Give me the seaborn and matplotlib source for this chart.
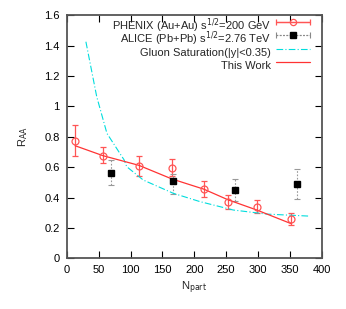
import numpy as np
import pandas as pd
import matplotlib
matplotlib.use("Agg")
import matplotlib.pyplot as plt
import seaborn as sns
from matplotlib.legend_handler import HandlerErrorbar

# PHENIX (Au+Au) data
phenix_npart = [13, 57, 113, 165, 215, 253, 298, 352]
phenix_raa = [0.774, 0.675, 0.607, 0.596, 0.456, 0.368, 0.339, 0.256]
phenix_err_up = [0.103, 0.055, 0.068, 0.055, 0.054, 0.046, 0.047, 0.040]
phenix_err_dn = [0.101, 0.050, 0.064, 0.055, 0.055, 0.046, 0.043, 0.039]

# ALICE (Pb+Pb) data
alice_npart = [69, 167, 264, 361]
alice_raa = [0.563, 0.509, 0.451, 0.489]
alice_err_up = [0.087, 0.045, 0.069, 0.096]
alice_err_dn = [0.083, 0.086, 0.074, 0.097]

# Gluon saturation curve
gluon_npart = [30, 47, 63, 90, 94, 120, 167, 209, 261, 314, 379]
gluon_raa = [1.425, 1.063, 0.822, 0.647, 0.603, 0.515, 0.428, 0.373, 0.318, 0.291, 0.278]

# This work curve
work_npart = [13, 57, 113, 165, 215, 253, 298, 352]
work_raa = [0.741, 0.675, 0.612, 0.522, 0.455, 0.385, 0.318, 0.228]

labels = ['PHENIX (Au+Au) s$^{1/2}$=200 GeV', 'ALICE (Pb+Pb) s$^{1/2}$=2.76 TeV',
          'Gluon Saturation(|y|<0.35)', 'This Work']

sns.set_style("ticks")
plt.rcParams['font.family'] = ['Liberation Sans', 'DejaVu Sans']
fs = 8

fig = plt.figure(figsize=(3.46, 3.09), dpi=100)
ax = fig.add_axes([0.193, 0.164, 0.737, 0.787])

red = '#ff5555'
ax.errorbar(phenix_npart, phenix_raa, yerr=[phenix_err_dn, phenix_err_up],
            fmt='o', mfc='none', mec=red, ms=5, mew=0.9, color=red,
            ecolor=red, elinewidth=0.9, capsize=2.5, capthick=0.9)
h2 = ax.errorbar(alice_npart, alice_raa, yerr=[alice_err_dn, alice_err_up],
                 fmt='s', color='black', ms=4.3, ecolor='#999999',
                 elinewidth=0.8, capsize=2, capthick=0.8)
for line in h2[2]:
    line.set_linestyle((0, (1.5, 1.5)))

sns.lineplot(x=gluon_npart, y=gluon_raa, ax=ax, color='#00dddd', lw=0.8,
             linestyle=(0, (6, 2, 1, 2)), label=labels[2])
sns.lineplot(x=work_npart, y=work_raa, ax=ax, color='#ff3333', lw=0.9,
             label=labels[3])

# legend proxies drawn gnuplot-style (line with caps at both ends)
p1 = ax.errorbar([np.nan], [np.nan], xerr=[1], fmt='-o', mfc='none', mec=red,
                 ms=4.5, mew=0.9, color=red, lw=0.9, capsize=2.5, capthick=0.9)
p2 = ax.errorbar([np.nan], [np.nan], xerr=[1], fmt='s', ls=(0, (1.5, 1.5)),
                 color='#888888', mfc='black', mec='black', ms=4.3, lw=0.8,
                 capsize=2, capthick=0.8)
for line in p2[2]:
    line.set_linestyle((0, (1.5, 1.5)))

ax.set_xlim(0, 400)
ax.set_ylim(0, 1.6)
ax.set_xticks(np.arange(0, 401, 50))
ax.set_yticks(np.arange(0, 1.61, 0.2))
ax.set_yticklabels(['0', '0.2', '0.4', '0.6', '0.8', '1', '1.2', '1.4', '1.6'])
ax.tick_params(direction='in', top=True, right=True, labelsize=fs, length=5,
               width=0.8, colors='black', pad=5)
for s in ax.spines.values():
    s.set_linewidth(1.3)
    s.set_color('#555555')
ax.set_xlabel('N$_{\\rm part}$', fontsize=fs, labelpad=3)
ax.set_ylabel('R$_{\\rm AA}$', fontsize=fs, labelpad=10)

line_handles = ax.get_lines()
gl = [l for l in line_handles if l.get_label() == labels[2]][0]
tw = [l for l in line_handles if l.get_label() == labels[3]][0]
hl = 3.0
leg = ax.legend([p1, p2, gl, tw], labels, loc='upper right', frameon=False,
                bbox_to_anchor=(1 - 12 / 255, 1.0),
                markerfirst=False, fontsize=fs, handlelength=hl, handleheight=2.6,
                borderaxespad=0, borderpad=0, labelspacing=-0.75,
                handletextpad=0.5,
                handler_map={p1: HandlerErrorbar(xerr_size=hl / 2),
                             p2: HandlerErrorbar(xerr_size=hl / 2)})
for vp in leg._legend_box.get_children()[1].get_children():
    vp.align = 'right'

fig.savefig('out.png', dpi=100)
